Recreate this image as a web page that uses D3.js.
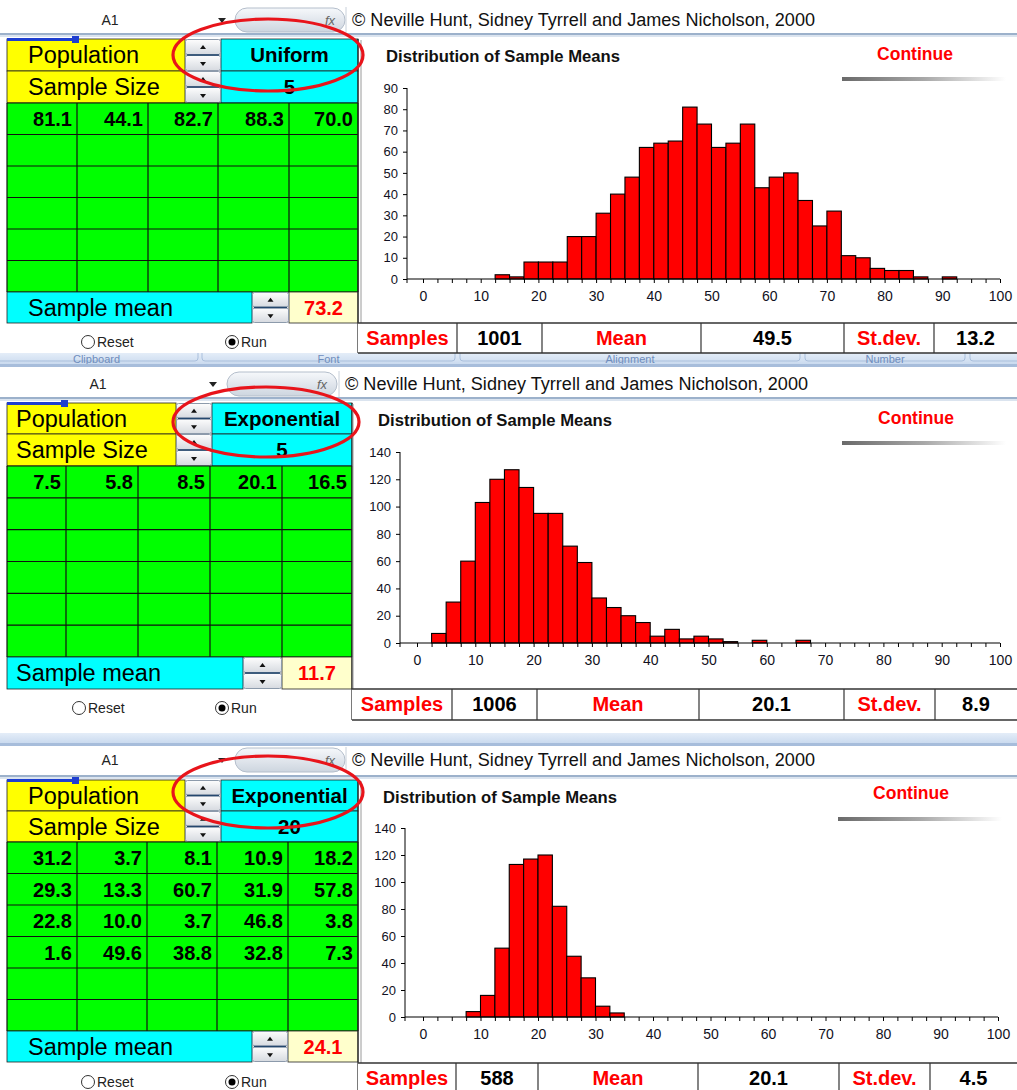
<!DOCTYPE html>
<html><head><meta charset="utf-8">
<script src="https://cdn.jsdelivr.net/npm/d3@7"></script>
<style>
body{margin:0;background:#fff}
svg{display:block}
text{font-family:Arial,"Liberation Sans",sans-serif}
</style>
</head><body>
<svg id="c" width="1017" height="1090"></svg>
<script>
// ---------------- DATA ----------------
const binStarts = [0,2.5,5,7.5,10,12.5,15,17.5,20,22.5,25,27.5,30,32.5,35,37.5,40,42.5,45,47.5,
                   50,52.5,55,57.5,60,62.5,65,67.5,70,72.5,75,77.5,80,82.5,85,87.5,90,92.5,95,97.5];
const binWidth = 2.5;
const uniform5Counts = [0,0,0,0,0,2,1,8,8,8,20,20,31,40,48,62,64,65,81,73,
                        62,64,73,43,48,50,37,25,32,11,10,5,4,4,1,0,1,0,0,0];
const exponential5Counts = [0,7,30,60,103,120,127,114,95,95,71,59,33,26,20,15,5,10,3,5,
                            3,1,0,2,0,0,2,0,0,0,0,0,0,0,0,0,0,0,0,0];
const exponential20Counts = [0,0,0,4,16,51,113,117,120,82,45,29,8,3,0,0,0,0,0,0,
                             0,0,0,0,0,0,0,0,0,0,0,0,0,0,0,0,0,0,0,0];
const xTickLabels = [0,10,20,30,40,50,60,70,80,90,100];
const yTicksUniform = [0,10,20,30,40,50,60,70,80,90];
const yTicksExponential = [0,20,40,60,80,100,120,140];
const populations = ["Uniform","Exponential","Exponential"];
const sampleSizes = [5,5,20];
const sampleValues1 = [[81.1,44.1,82.7,88.3,70.0]];
const sampleValues2 = [[7.5,5.8,8.5,20.1,16.5]];
const sampleValues3 = [[31.2,3.7,8.1,10.9,18.2],[29.3,13.3,60.7,31.9,57.8],
                       [22.8,10.0,3.7,46.8,3.8],[1.6,49.6,38.8,32.8,7.3]];
const sampleMeans = [73.2,11.7,24.1];
const sampleCounts = [1001,1006,588];
const meanOfMeans = [49.5,20.1,20.1];
const sdOfMeans = [13.2,8.9,4.5];
const ribbonLabels = ["Clipboard","Font","Alignment","Number"];
const copyright = "\u00A9 Neville Hunt, Sidney Tyrrell and James Nicholson, 2000";
const chartTitle = "Distribution of Sample Means";

// ---------------- LAYOUT ----------------
const W = 1017;
const layouts = [
 {fbY:20, sepY:33, a1X:110, arrowX:222, pillX:235, pillW:110, copyX:352, copyW:463,
  cols:[7,77,148,218,289,358], popTop:39, sizeTop:71, gridTop:103, gridBot:292, meanBot:323,
  spinX:185, spinW:36, meanSpinX:252, labelX:28, radioY:342, resetX:88, runX:232,
  chartLeft:361, titleX:386, titleY:62, contX:915, contY:60, gbarX0:842, gbarX1:1006, gbarY:77,
  yAxisX:407, x0:423, x100:1000, y0:279, yTop:88, yMax:90,
  statsTop:323, statsBot:353, statsCols:[358,457,542,701,844,934,1017],
  ell:{cx:268, cy:55, rx:95, ry:36}},
 {fbY:384, sepY:397, a1X:98, arrowX:213, pillX:227, pillW:110, copyX:345, copyW:463,
  cols:[7,66,138,210,282,352], popTop:403, sizeTop:434, gridTop:466, gridBot:657, meanBot:689,
  spinX:176, spinW:36, meanSpinX:243, labelX:16, radioY:708, resetX:79, runX:222,
  chartLeft:353, titleX:378, titleY:426, contX:916, contY:424, gbarX0:842, gbarX1:1006, gbarY:441,
  yAxisX:400, x0:417, x100:1000, y0:643, yTop:452, yMax:140,
  statsTop:689, statsBot:720, statsCols:[352,452,537,699,844,935,1017],
  ell:{cx:266, cy:422, rx:93, ry:35}},
 {fbY:760, sepY:775, a1X:110, arrowX:222, pillX:235, pillW:110, copyX:352, copyW:463,
  cols:[7,77,147,217,288,358], popTop:780, sizeTop:811, gridTop:842, gridBot:1031, meanBot:1062,
  spinX:185, spinW:36, meanSpinX:252, labelX:28, radioY:1082, resetX:88, runX:232,
  chartLeft:361, titleX:383, titleY:803, contX:911, contY:799, gbarX0:838, gbarX1:1002, gbarY:817,
  yAxisX:405, x0:423, x100:998, y0:1017, yTop:828, yMax:140,
  statsTop:1063, statsBot:1096, statsCols:[358,456,538,698,839,930,1017],
  ell:{cx:268, cy:792, rx:95, ry:36}}
];
const panelData = [
 {counts:uniform5Counts, yTicks:yTicksUniform, values:sampleValues1},
 {counts:exponential5Counts, yTicks:yTicksExponential, values:sampleValues2},
 {counts:exponential20Counts, yTicks:yTicksExponential, values:sampleValues3}
];

const svg = d3.select("#c");
const defs = svg.append("defs");
function vgrad(id, c0, c1){
  const g = defs.append("linearGradient").attr("id",id).attr("x1",0).attr("y1",0).attr("x2",0).attr("y2",1);
  g.append("stop").attr("offset","0").attr("stop-color",c0);
  g.append("stop").attr("offset","1").attr("stop-color",c1);
}
vgrad("pill","#f6f8fb","#cdd5df");
vgrad("spin","#fdfdfd","#d6dae0");
vgrad("ribbon","#e4edf8","#c3d5ec");
const hg = defs.append("linearGradient").attr("id","gbar").attr("x1",0).attr("x2",1).attr("y1",0).attr("y2",0);
hg.append("stop").attr("offset","0").attr("stop-color","#6a6a6a");
hg.append("stop").attr("offset","0.5").attr("stop-color","#a8a8a8");
hg.append("stop").attr("offset","1").attr("stop-color","#ffffff");

// ribbons between panels
function ribbonBand(y0, y1, tabs, labels){
  const g = svg.append("g");
  g.append("rect").attr("x",0).attr("y",y0).attr("width",W).attr("height",y1-y0).attr("fill","url(#ribbon)");
  const clipId = "rc"+y0;
  defs.append("clipPath").attr("id",clipId).append("rect").attr("x",0).attr("y",y0).attr("width",W).attr("height",y1-y0);
  const lg = g.append("g").attr("clip-path",`url(#${clipId})`);
  tabs.forEach((t,k)=>{
    lg.append("rect").attr("x",t[0]).attr("y",y0-8).attr("width",t[1]-t[0]).attr("height",y1-y0+2)
      .attr("rx",3).attr("fill","none").attr("stroke","#a9bfdc");
    if(labels[k]) lg.append("text").attr("x",(t[0]+t[1])/2).attr("y",y0+10).attr("text-anchor","middle")
      .attr("font-size",11).attr("fill","#6f8dbd").text(labels[k]);
  });
  g.append("rect").attr("x",0).attr("y",y1-3).attr("width",W).attr("height",3).attr("fill","#a7bddb");
}
ribbonBand(353, 367, [[-5,198],[202,455],[460,800],[805,965],[970,1030]], ribbonLabels);
ribbonBand(733, 746, [], []);

function spinner(g, x, y, w, h){
  const hh = h/2;
  [0,1].forEach(k=>{
    g.append("rect").attr("x",x+0.5).attr("y",y+k*hh+0.5).attr("width",w-1).attr("height",hh-1)
      .attr("rx",2).attr("fill","url(#spin)").attr("stroke","#8c9aab");
    const cx = x+w/2, cy = y+k*hh+hh/2;
    if(k===0) g.append("path").attr("d",`M${cx-3},${cy+2}h6l-3,-4z`).attr("fill","#111");
    else g.append("path").attr("d",`M${cx-3},${cy-1}h6l-3,4z`).attr("fill","#111");
  });
  g.append("line").attr("x1",x+2).attr("x2",x+w-2).attr("y1",y+hh).attr("y2",y+hh)
    .attr("stroke","#24476e").attr("stroke-width",1.5);
}

function drawPanel(i){
  const L = layouts[i], D = panelData[i];
  const g = svg.append("g");
  const left = L.cols[0], right = L.cols[5];

  // formula bar
  g.append("text").attr("x",L.a1X).attr("y",L.fbY+5).attr("text-anchor","middle")
    .attr("font-size",14).attr("fill","#222").text("A1");
  g.append("path").attr("d",`M${L.arrowX-4},${L.fbY-2}h8l-4,5z`).attr("fill","#222");
  g.append("rect").attr("x",L.pillX).attr("y",L.fbY-12).attr("width",L.pillW).attr("height",24)
    .attr("rx",12).attr("fill","url(#pill)").attr("stroke","#b4becb");
  g.append("text").attr("x",L.pillX+L.pillW-20).attr("y",L.fbY+5)
    .attr("font-family","'DejaVu Serif',serif").attr("font-style","italic").attr("font-size",13)
    .attr("fill","#666").text("fx");
  g.append("line").attr("x1",L.copyX-6).attr("x2",L.copyX-6).attr("y1",L.fbY-13).attr("y2",L.fbY+13)
    .attr("stroke","#c8d0da");
  g.append("text").attr("x",L.copyX).attr("y",L.fbY+6)
    .attr("font-family","Lato,'Open Sans',sans-serif").attr("font-size",18).attr("fill","#111")
    .attr("textLength",L.copyW).attr("lengthAdjust","spacingAndGlyphs").text(copyright);
  g.append("rect").attr("x",0).attr("y",L.sepY).attr("width",W).attr("height",2).attr("fill","#9cb1cb");
  g.append("rect").attr("x",0).attr("y",L.sepY+2).attr("width",W).attr("height",2).attr("fill","#dbe4ef");

  // ---- left control block
  const sx = L.spinX, sw = L.spinW;
  [[L.popTop,L.sizeTop,"Population",populations[i]],[L.sizeTop,L.gridTop,"Sample Size",sampleSizes[i]]].forEach(r=>{
    g.append("rect").attr("x",left).attr("y",r[0]).attr("width",sx-left).attr("height",r[1]-r[0])
      .attr("fill","#ffff00").attr("stroke","#222").attr("stroke-width",0.8);
    g.append("rect").attr("x",sx+sw).attr("y",r[0]).attr("width",right-sx-sw).attr("height",r[1]-r[0])
      .attr("fill","#00ffff").attr("stroke","#222").attr("stroke-width",0.8);
    spinner(g, sx, r[0], sw, r[1]-r[0]);
    g.append("text").attr("x",L.labelX).attr("y",r[0]+(r[1]-r[0])/2+8).attr("font-size",23.5)
      .attr("fill","#000").text(r[2]);
    g.append("text").attr("x",(sx+sw+right)/2).attr("y",r[0]+(r[1]-r[0])/2+7).attr("text-anchor","middle")
      .attr("font-size",20.5).attr("font-weight","bold").attr("fill","#000").text(r[3]);
  });
  // selection marker
  g.append("rect").attr("x",left).attr("y",L.popTop-1).attr("width",L.cols[1]-4-left).attr("height",3).attr("fill","#1f3fd0");
  g.append("rect").attr("x",L.cols[1]-5).attr("y",L.popTop-3).attr("width",7).attr("height",7).attr("fill","#1f3fd0");

  // green grid
  const rowH = (L.gridBot-L.gridTop)/6;
  g.append("rect").attr("x",left).attr("y",L.gridTop).attr("width",right-left).attr("height",L.gridBot-L.gridTop)
    .attr("fill","#00ff00");
  for(let r=0;r<=6;r++) g.append("line").attr("x1",left).attr("x2",right)
    .attr("y1",L.gridTop+r*rowH).attr("y2",L.gridTop+r*rowH).attr("stroke","#111").attr("stroke-width",1.2);
  L.cols.forEach(c=>g.append("line").attr("x1",c).attr("x2",c).attr("y1",L.gridTop).attr("y2",L.gridBot)
    .attr("stroke","#111").attr("stroke-width",1.2));
  D.values.forEach((row,r)=>row.forEach((v,c)=>{
    g.append("text").attr("x",L.cols[c+1]-5).attr("y",L.gridTop+r*rowH+rowH/2+7.5)
      .attr("text-anchor","end").attr("font-size",20).attr("font-weight","bold").attr("fill","#000")
      .text(v.toFixed(1));
  }));

  // sample mean row
  const ms = L.meanSpinX, mw = L.cols[4]-L.meanSpinX;
  g.append("rect").attr("x",left).attr("y",L.gridBot).attr("width",ms-left).attr("height",L.meanBot-L.gridBot)
    .attr("fill","#00ffff").attr("stroke","#222").attr("stroke-width",0.8);
  g.append("rect").attr("x",L.cols[4]).attr("y",L.gridBot).attr("width",right-L.cols[4]).attr("height",L.meanBot-L.gridBot)
    .attr("fill","#ffffcc").attr("stroke","#222").attr("stroke-width",0.8);
  spinner(g, ms, L.gridBot, mw, L.meanBot-L.gridBot);
  g.append("text").attr("x",L.labelX).attr("y",L.gridBot+(L.meanBot-L.gridBot)/2+8).attr("font-size",23.5)
    .attr("fill","#000").text("Sample mean");
  g.append("text").attr("x",(L.cols[4]+right)/2).attr("y",L.gridBot+(L.meanBot-L.gridBot)/2+7)
    .attr("text-anchor","middle").attr("font-size",20).attr("font-weight","bold").attr("fill","#ff0000")
    .text(sampleMeans[i].toFixed(1));

  // radio buttons
  g.append("circle").attr("cx",L.resetX).attr("cy",L.radioY).attr("r",6.5).attr("fill","#fff").attr("stroke","#333");
  g.append("text").attr("x",L.resetX+9).attr("y",L.radioY+5).attr("font-size",14).attr("fill","#222").text("Reset");
  g.append("circle").attr("cx",L.runX).attr("cy",L.radioY).attr("r",6.5).attr("fill","#fff").attr("stroke","#333");
  g.append("circle").attr("cx",L.runX).attr("cy",L.radioY).attr("r",3.5).attr("fill","#000");
  g.append("text").attr("x",L.runX+9).attr("y",L.radioY+5).attr("font-size",14).attr("fill","#222").text("Run");

  // vertical separators
  g.append("line").attr("x1",right).attr("x2",right).attr("y1",L.popTop).attr("y2",L.statsBot)
    .attr("stroke","#222").attr("stroke-width",1.2);
  g.append("line").attr("x1",L.chartLeft).attr("x2",L.chartLeft).attr("y1",L.popTop+1).attr("y2",L.statsTop)
    .attr("stroke","#9a9a9a").attr("stroke-width",1);

  // ---- chart
  g.append("text").attr("x",L.titleX).attr("y",L.titleY).attr("font-size",16.5).attr("font-weight","bold")
    .attr("fill","#111").attr("textLength",234).attr("lengthAdjust","spacingAndGlyphs").text(chartTitle);
  g.append("text").attr("x",L.contX).attr("y",L.contY).attr("text-anchor","middle").attr("font-size",17.5)
    .attr("font-weight","bold").attr("fill","#ff0000").text("Continue");
  g.append("rect").attr("x",L.gbarX0).attr("y",L.gbarY).attr("width",L.gbarX1-L.gbarX0).attr("height",4)
    .attr("fill","url(#gbar)");

  const x = d3.scaleLinear().domain([0,100]).range([L.x0,L.x100]);
  const y = d3.scaleLinear().domain([0,L.yMax]).range([L.y0,L.yTop]);

  // bars
  const bins = binStarts.map((b,k)=>({b, c:D.counts[k]})).filter(d=>d.c>0);
  g.append("g").selectAll("rect").data(bins).join("rect")
    .attr("x",d=>x(d.b)).attr("y",d=>y(d.c))
    .attr("width",d=>x(d.b+binWidth)-x(d.b)).attr("height",d=>y(0)-y(d.c))
    .attr("fill","#ff0000").attr("stroke","#000").attr("stroke-width",1.1);

  // y axis
  const ya = g.append("g").attr("transform",`translate(${L.yAxisX},0)`)
    .call(d3.axisLeft(y).tickValues(D.yTicks).tickSize(4).tickSizeOuter(0).tickPadding(5));
  ya.select(".domain").remove();
  ya.append("line").attr("x1",0).attr("x2",0).attr("y1",y(0)).attr("y2",y(L.yMax)).attr("stroke","#000");
  ya.selectAll("text").attr("font-family","Arial,'Liberation Sans',sans-serif").attr("font-size",13).attr("fill","#111122");
  ya.selectAll(".tick line").attr("stroke","#000");

  // x axis
  const xa = g.append("g").attr("transform",`translate(0,${L.y0})`)
    .call(d3.axisBottom(x).tickValues(binStarts.concat([100])).tickSize(4).tickSizeOuter(0).tickPadding(8)
      .tickFormat(v=>xTickLabels.includes(v)?String(v):""));
  xa.select(".domain").remove();
  xa.append("line").attr("x1",L.yAxisX).attr("x2",x(100)).attr("y1",0).attr("y2",0).attr("stroke","#000").attr("stroke-width",1.2);
  xa.append("line").attr("x1",L.yAxisX).attr("x2",L.yAxisX).attr("y1",0).attr("y2",4).attr("stroke","#000");
  xa.selectAll("text").attr("font-family","Arial,'Liberation Sans',sans-serif").attr("font-size",14).attr("fill","#111122");
  xa.selectAll(".tick line").attr("stroke","#000");

  // stats row
  const sc = L.statsCols;
  g.append("rect").attr("x",sc[0]).attr("y",L.statsTop).attr("width",W-sc[0]).attr("height",L.statsBot-L.statsTop)
    .attr("fill","#fff");
  g.append("line").attr("x1",sc[0]).attr("x2",W).attr("y1",L.statsTop).attr("y2",L.statsTop).attr("stroke","#333").attr("stroke-width",1.5);
  g.append("line").attr("x1",sc[0]).attr("x2",W).attr("y1",L.statsBot).attr("y2",L.statsBot).attr("stroke","#333").attr("stroke-width",1.5);
  sc.slice(1,6).forEach(c=>g.append("line").attr("x1",c).attr("x2",c).attr("y1",L.statsTop).attr("y2",L.statsBot)
    .attr("stroke","#333").attr("stroke-width",1.2));
  const cells = [["Samples","#ff0000"],[String(sampleCounts[i]),"#000"],["Mean","#ff0000"],
                 [meanOfMeans[i].toFixed(1),"#000"],["St.dev.","#ff0000"],[sdOfMeans[i].toFixed(1),"#000"]];
  const ty = L.statsTop + Math.min(15, (L.statsBot-L.statsTop)/2) + 7;
  cells.forEach((c,k)=>g.append("text").attr("x",(sc[k]+sc[k+1])/2).attr("y",ty).attr("text-anchor","middle")
    .attr("font-size",20).attr("font-weight","bold").attr("fill",c[1]).text(c[0]));

  // red highlight ellipse
  g.append("ellipse").attr("cx",L.ell.cx).attr("cy",L.ell.cy).attr("rx",L.ell.rx).attr("ry",L.ell.ry)
    .attr("fill","none").attr("stroke","#e8141b").attr("stroke-width",3.2);
}
[0,1,2].forEach(drawPanel);
</script>
</body></html>
